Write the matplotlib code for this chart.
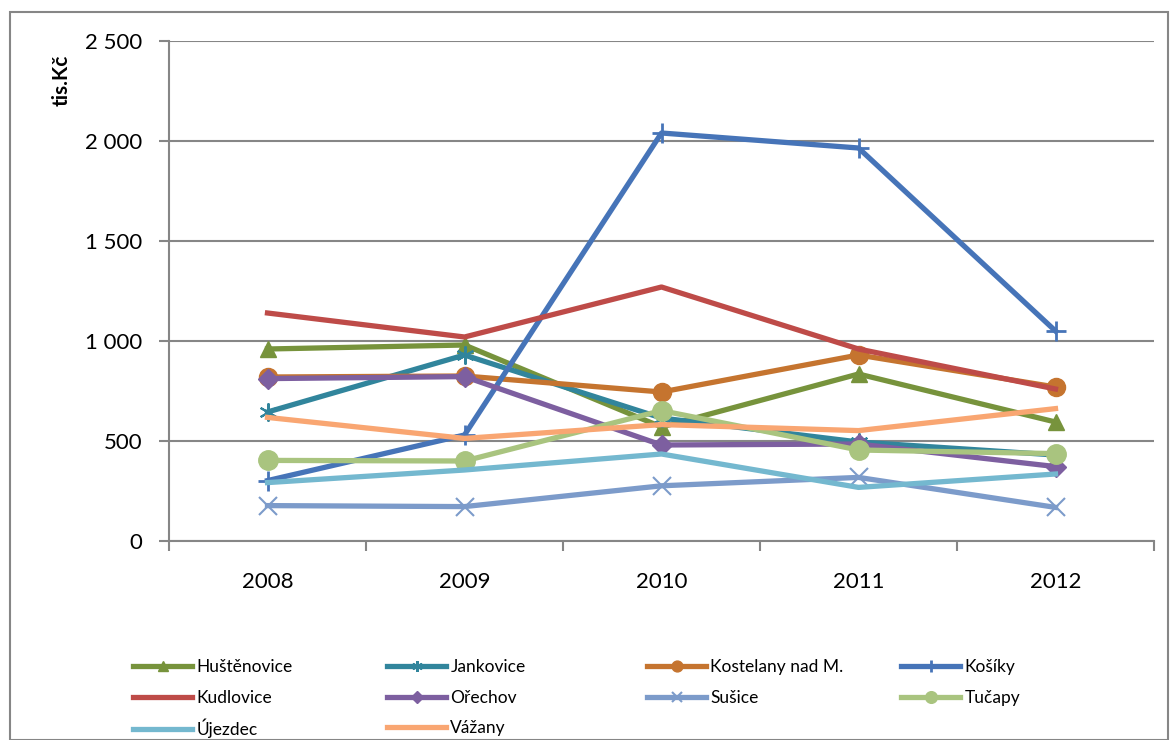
import numpy as np
import matplotlib.pyplot as plt
from matplotlib.patches import Rectangle
from matplotlib.ticker import FuncFormatter

plt.rcParams['font.family'] = ['Lato', 'DejaVu Sans']

roky = ['2008', '2009', '2010', '2011', '2012']

# hodnoty v tis. Kc (odhad z grafu)
hustenovice = [960, 980, 570, 835, 595]
jankovice = [645, 930, 615, 495, 430]
kostelany = [820, 825, 745, 930, 770]
kosiky = [302, 530, 2040, 1965, 1050]
kudlovice = [1140, 1020, 1270, 960, 760]
orechov = [812, 822, 480, 485, 372]
susice = [177, 172, 276, 318, 168]
tucapy = [403, 400, 652, 455, 437]
ujezdec = [292, 355, 435, 268, 335]
vazany = [618, 513, 582, 552, 662]

nazvy = ['Huštěnovice', 'Jankovice', 'Kostelany nad M.', 'Košíky', 'Kudlovice',
         'Ořechov', 'Sušice', 'Tučapy', 'Újezdec', 'Vážany']
serie = [hustenovice, jankovice, kostelany, kosiky, kudlovice,
         orechov, susice, tucapy, ujezdec, vazany]
barvy = ['#77933C', '#31859C', '#C5742F', '#4674B8', '#BE4B48',
         '#7D5FA0', '#7C9BCA', '#A9C47F', '#74B8CF', '#F9A672']
# (marker, velikost, sirka hrany)
znacky = [('^', 12, 1), ((6, 2, 0), 13, 1.5), ('o', 13, 1), ('+', 14, 2), ('None', 0, 1),
          ('D', 10, 1), ('x', 13, 1.5), ('o', 14, 1), ('None', 0, 1), ('None', 0, 1)]

fig = plt.figure(figsize=(11.7, 7.4), dpi=100)
ax = fig.add_axes([169/1170, 1 - 541/740, 985/1170, 500/740])

x = np.arange(len(roky))
car = []
for nazev, y, c, (m, ms, mew) in zip(nazvy, serie, barvy, znacky):
    l, = ax.plot(x, y, color=c, lw=3.8, marker=m, markersize=ms,
                 markeredgewidth=mew, markerfacecolor=c, markeredgecolor=c,
                 label=nazev, solid_joinstyle='round')
    car.append(l)

seda = '#868686'
ax.set_xlim(-0.5, 4.5)
ax.set_ylim(0, 2500)
ax.set_yticks(np.arange(0, 2501, 500))
ax.yaxis.set_major_formatter(FuncFormatter(lambda v, p: f'{int(v):,}'.replace(',', ' ')))
ax.grid(axis='y', color=seda, lw=1.5)
ax.set_axisbelow(True)

ax.set_xticks(x)
ax.set_xticklabels(roky)
ax.set_xticks(np.arange(-0.5, 5, 1), minor=True)
ax.tick_params(axis='x', which='major', length=0, pad=22, labelsize=16)
ax.tick_params(axis='x', which='minor', length=7, width=1.5, color=seda, direction='out')
ax.tick_params(axis='y', length=7, width=1.5, color=seda, pad=12, labelsize=16)

for s in ['top', 'right']:
    ax.spines[s].set_visible(False)
for s in ['left', 'bottom']:
    ax.spines[s].set_color(seda)
    ax.spines[s].set_linewidth(1.5)

fig.text(62/1170, 1 - 80/740, 'tis.Kč', rotation=90, fontsize=15,
         fontweight='bold', ha='center', va='center')

# legenda: kazda polozka zvlast, 4 sloupce, radkove poradi
sloupce_x = [133, 387, 647, 901]
radky_y = [667, 698, 728]
for i, l in enumerate(car):
    r, s = divmod(i, 4)
    fig.legend(handles=[l], labels=[l.get_label()], loc='center left',
               bbox_to_anchor=(sloupce_x[s]/1170, 1 - radky_y[r]/740), frameon=False,
               fontsize=12.5, handlelength=3.4, handletextpad=0.25,
               borderpad=0, borderaxespad=0, markerscale=0.6)

fig.patches.append(Rectangle((10/1170, 0), 1158/1170, 1 - 12/740, transform=fig.transFigure,
                             fill=False, edgecolor=seda, lw=1.5))

fig.savefig('out.png', dpi=100)
